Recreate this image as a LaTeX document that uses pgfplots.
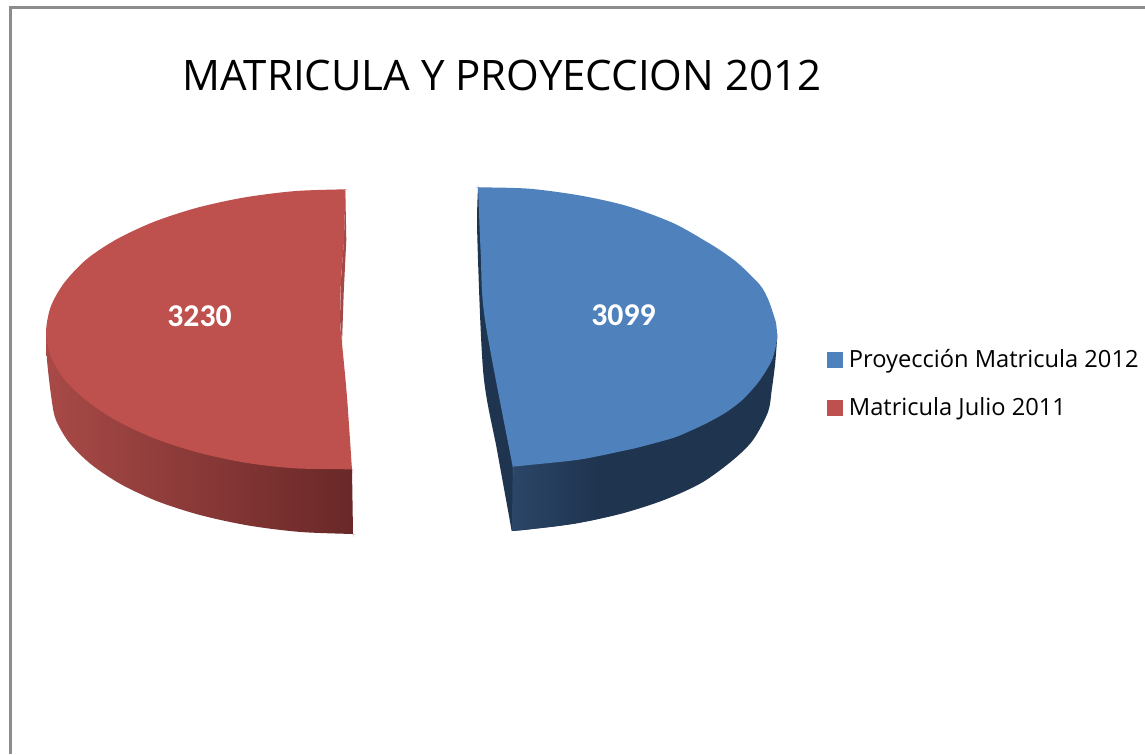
\documentclass[border=0pt]{standalone}
\usepackage{pgfplots}
\pgfplotsset{compat=1.18}
\usepackage{fontspec}
\setmainfont{Open Sans}
\newfontfamily\labelfont{Carlito}
\definecolor{pieblue}{HTML}{4F81BD}
\definecolor{piered}{HTML}{BE504D}
\definecolor{bluedark}{HTML}{1F344F}
\definecolor{bluefront}{HTML}{2B4668}
\definecolor{redleft}{HTML}{A84A47}
\definecolor{redright}{HTML}{682727}
\definecolor{redsliver}{HTML}{A24A47}
\definecolor{frame}{HTML}{8C8C8C}
\begin{document}
\begin{tikzpicture}
\begin{axis}[
  scale only axis,width=858.75pt,height=565.5pt,
  xmin=0,xmax=1145,ymin=0,ymax=754,y dir=reverse,
  axis lines=none,
  legend cell align=left,
  legend style={at={(axis cs:827,347)},anchor=north west,draw=none,fill=none,
    inner sep=0pt,outer sep=0pt,row sep=17pt,
    font=\fontsize{17.75pt}{21pt}\selectfont},
]
% keeps the whole 1145x754 area in the page
\addplot[draw=none,forget plot] coordinates {(0,0)(1145,0)(1145,754)(0,754)};
% frame
\addplot[frame,line width=1.6pt,forget plot] coordinates {(10.5,754)(10.5,7.5)(1145,7.5)};

% red slice: side, sliver, top
\addplot[draw=none,forget plot,shade,left color=redleft,right color=redright,smooth,tension=0.5] coordinates {
 (46,333)(47,360)(51,395)(55.6,419)(69.1,442.5)(91.3,464.5)(121.4,484.5)(158.5,501.7)(201.5,515.4)(249.1,525.6)(299.7,531.9)(352,534)(353,534)(353,533)(352,469)
} -- cycle;
\addplot[draw=none,fill=redsliver,forget plot] coordinates {
 (345.3,189)(346.3,240)(343.7,293)(342,343)(340,320)(341,280)(344,240)
} -- cycle;
\addplot[draw=none,fill=piered,forget plot,smooth,tension=0.5] coordinates {
 (345.3,189.3)(344,189.3)(294.7,191.1)(244.1,197.5)(196.5,207.9)(153.5,222)(116.4,239.4)(86.3,259.5)(64.1,283)(50.6,307)(46,333)
 (50.6,356)(64.1,379)(86.3,400.5)(116.4,420.6)(153.5,438)(196.5,452.1)(244.1,462.5)(294.7,468.3)(351,469.3)(352,469.3)(351.9,468.3)
 (347,397)(342,343)(340,320)(341,280)(344,240)(345.2,190.5)
} -- cycle;

% blue slice: side, front strip, top
\addplot[draw=none,fill=bluedark,forget plot,smooth,tension=0.5] coordinates {
 (478,187.3)(477.9,189)(477.3,236.7)(483.3,373)(497,450)(509,516)(511.5,530)(511.7,531)(512.7,530.9)(524,530)(574.6,523.7)(622,513.5)(664.8,499.7)(701.8,482.7)(733,460)(753,440)(768,412)(771.7,390)(775,365)(777,340)(777,333)
} -- cycle;
\addplot[draw=none,forget plot,shade,left color=bluefront,right color=bluedark] coordinates {
 (512.7,466.7)(511.9,530.7)(524,529.8)(553,526.6)(574.6,523.5)(596.7,519.2)(596.7,452)
} -- cycle;
\addplot[draw=none,fill=pieblue,forget plot,smooth,tension=0.5] coordinates {
 (478,187.3)(479,187.3)(529,188.7)(580,195.5)(627,206)(673,223)(707,242)(725,253.5)(740,265)(760,285)(768,299)(773,313)(776,323)(777,333)
 (777,340)(772,360)(760,380)(750,392)(740,402)(725,413)(707,423)(690,431)(673,438)(640,447)(627,450)(580,459.5)(529,465)(513.7,466.6)(512.7,466.7)(512.5,465.7)
 (485,320)(480.7,253)(478.1,188.3)
} -- cycle;

% legend
\addlegendimage{legend image code/.code={\fill[pieblue] (0pt,-5.7pt) rectangle (11pt,5.7pt);\path (14pt,0pt);}}
\addlegendentry{Proyección Matricula 2012}
\addlegendimage{legend image code/.code={\fill[piered] (0pt,-5.7pt) rectangle (11pt,5.7pt);\path (14pt,0pt);}}
\addlegendentry{Matricula Julio 2011}

\node[font=\fontsize{31.5pt}{38pt}\selectfont,anchor=base west,inner sep=0pt] at (axis cs:182,90) {MATRICULA Y PROYECCION 2012};
\node[font=\labelfont\bfseries\fontsize{23.8pt}{27pt}\selectfont,text=white] at (axis cs:199.5,316.5) {3230};
\node[font=\labelfont\bfseries\fontsize{23.8pt}{27pt}\selectfont,text=white] at (axis cs:623.5,315) {3099};
\end{axis}
\end{tikzpicture}
\end{document}
